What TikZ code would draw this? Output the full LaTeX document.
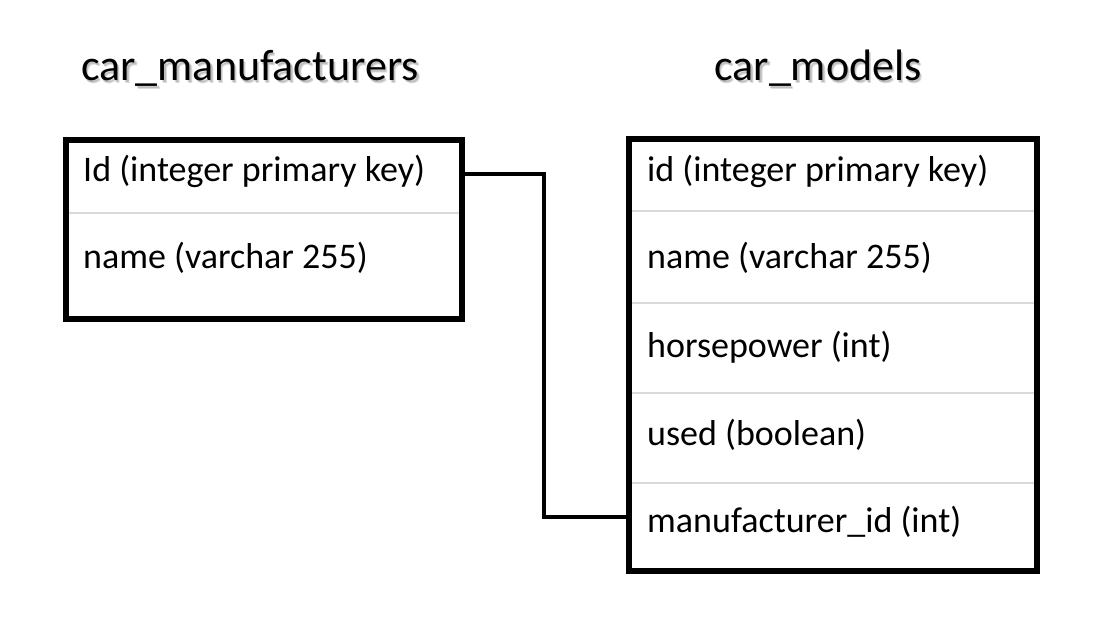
\documentclass[tikz,border=0pt]{standalone}
\usepackage{fontspec}
\setmainfont{Carlito}
\usetikzlibrary{backgrounds}
\begin{document}
\begin{tikzpicture}[x=1pt,y=-1pt,
  tbl/.style={draw=black, line width=6pt, rectangle, inner sep=0pt, outer sep=0pt, anchor=north west},
  rowtext/.style={anchor=base west, inner sep=0pt, font=\fontsize{36}{42}\selectfont},
  title/.style={anchor=base, inner sep=0pt, font=\fontsize{44}{52}\selectfont},
  titleshadow/.style={title, text=black, opacity=0.14},
  divider/.style={draw=black!15, line width=2pt},
  link/.style={draw=black, line width=3.5pt}]
\useasboundingbox (0,0) rectangle (1118,644);

% table titles with a soft drop shadow
\node[titleshadow] (t1s) at (251.5,82.5) {car\_manufacturers};
\node[titleshadow] (t1t) at (252.5,83.5) {car\_manufacturers};
\node[titleshadow] (t2s) at (819.5,82.5) {car\_models};
\node[titleshadow] (t2t) at (820.5,83.5) {car\_models};
\node[title] (t1) at (250,81) {car\_manufacturers};
\node[title] (t2) at (818,81) {car\_models};

% table frames
\node[tbl, minimum width=396pt, minimum height=179pt] (lbox) at (65.5,140) {};
\node[tbl, minimum width=408pt, minimum height=432pt] (rbox) at (629,138.7) {};

% row separators, drawn behind the frames
\begin{scope}[on background layer]
  \foreach \y in {212.7} \draw[divider] (lbox.west |- 0,\y) -- (lbox.east |- 0,\y);
  \foreach \y in {211,303,393,483} \draw[divider] (rbox.west |- 0,\y) -- (rbox.east |- 0,\y);
\end{scope}

% columns of car_manufacturers
\node[rowtext] (l1) at (83,182) {Id (integer primary key)};
\node[rowtext] (l2) at (83,269) {name (varchar 255)};

% columns of car_models
\node[rowtext] (r1) at (647,182) {id (integer primary key)};
\node[rowtext] (r2) at (647,269) {name (varchar 255)};
\node[rowtext] (r3) at (647,357) {horsepower (int)};
\node[rowtext] (r4) at (647,445) {used (boolean)};
\node[rowtext] (r5) at (647,532) {manufacturer\_id (int)};

% foreign key link
\coordinate (j1) at (544,174);
\coordinate (j2) at (544,517);
\draw[link] (lbox.east |- j1) -- (j1) -- (j2) -- (rbox.west |- j2);
\end{tikzpicture}
\end{document}
